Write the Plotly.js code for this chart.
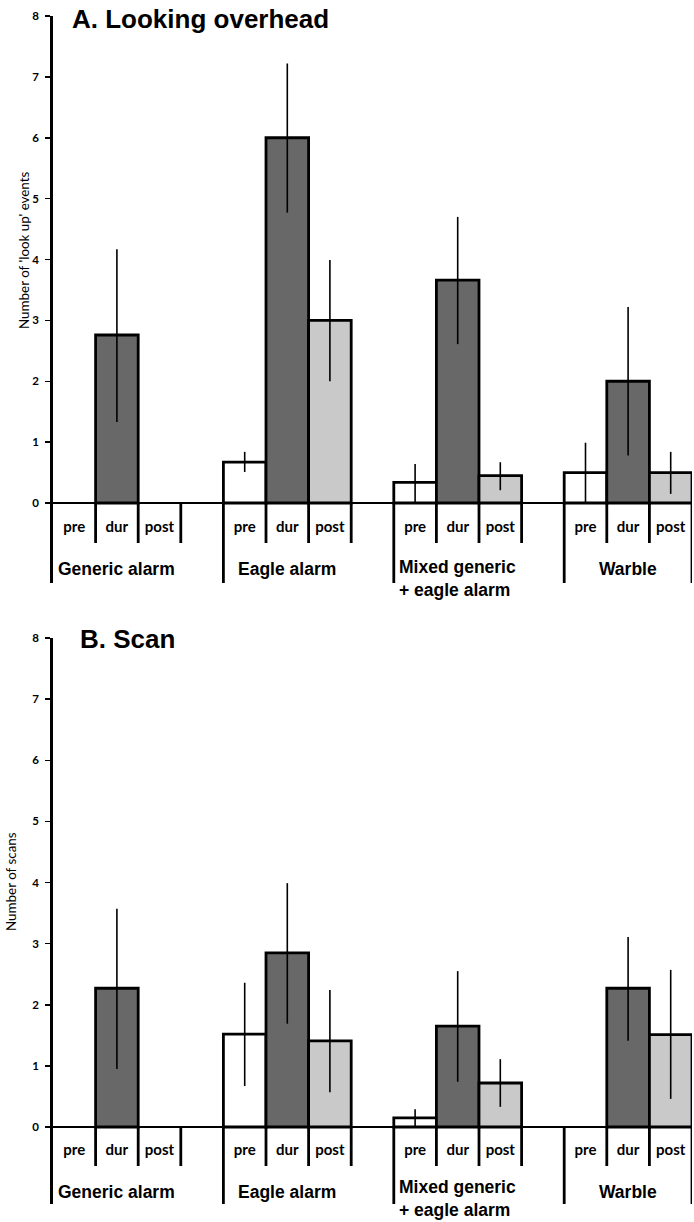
<!DOCTYPE html>
<html>
<head>
<meta charset="utf-8">
<script src="https://cdn.plot.ly/plotly-3.0.1.min.js"></script>
<style>html,body{margin:0;padding:0;background:#fff;}#chart{width:694px;height:1222px;}</style>
</head>
<body>
<div id="chart"></div>
<script>
// ---------- DATA ----------
const groups = ['Generic alarm', 'Eagle alarm', 'Mixed generic<br>+ eagle alarm', 'Warble'];
const phases = ['pre', 'dur', 'post'];
const yTicks = [0, 1, 2, 3, 4, 5, 6, 7, 8];
const titleA = 'A. Looking overhead';
const titleB = 'B. Scan';
const yTitleA = "Number of 'look up' events";
const yTitleB = 'Number of scans';

// Panel A: looking overhead (mean, upper and lower end of error bar)
const lookPre    = [0.00, 0.67, 0.34, 0.50];
const lookPreHi  = [0.00, 0.84, 0.64, 0.99];
const lookPreLo  = [0.00, 0.51, 0.00, 0.00];
const lookDur    = [2.76, 6.00, 3.66, 2.00];
const lookDurHi  = [4.17, 7.22, 4.70, 3.22];
const lookDurLo  = [1.33, 4.77, 2.61, 0.78];
const lookPost   = [0.00, 3.00, 0.45, 0.50];
const lookPostHi = [0.00, 3.99, 0.67, 0.84];
const lookPostLo = [0.00, 2.00, 0.21, 0.15];

// Panel B: scans
const scanPre    = [0.00, 1.52, 0.15, 0.00];
const scanPreHi  = [0.00, 2.36, 0.29, 0.00];
const scanPreLo  = [0.00, 0.67, 0.00, 0.00];
const scanDur    = [2.27, 2.85, 1.65, 2.27];
const scanDurHi  = [3.57, 3.99, 2.55, 3.11];
const scanDurLo  = [0.95, 1.69, 0.74, 1.41];
const scanPost   = [0.00, 1.41, 0.72, 1.51];
const scanPostHi = [0.00, 2.24, 1.11, 2.57];
const scanPostLo = [0.00, 0.57, 0.33, 0.46];

// ---------- STYLE / GEOMETRY ----------
const W = 694, H = 1222;
const fillColors = ['#ffffff', '#686868', '#c9c9c9'];
const labelFont = {family: 'Lato, sans-serif', size: 15, color: '#000', weight: 'bold'};
const groupFont = {family: 'Liberation Sans, Arial, sans-serif', size: 17.5, color: '#000', weight: 'bold'};
const titleFont = {family: 'Liberation Sans, Arial, sans-serif', size: 26, color: '#000', weight: 'bold'};
const tickFont = {family: 'Lato, sans-serif', size: 11.5, color: '#000', weight: 'bold'};
const yTitleFont = {family: 'Lato, sans-serif', size: 13.4, color: '#000'};

// pixel geometry of each panel (value 8 at top, value 0 baseline, bottom of the long dividers)
const panels = [
  {sfx: '', top: 16, zero: 503, bottom: 583, shortPx: 543, phasePx: 528, groupPx: 569, mixedTopPx: 555,
   title: titleA, titlePx: 19, titleX: 70, yTitle: yTitleA, yTitleX: 24, yTitleY: 250,
   series: [[lookPre, lookPreHi, lookPreLo], [lookDur, lookDurHi, lookDurLo], [lookPost, lookPostHi, lookPostLo]]},
  {sfx: '2', top: 638, zero: 1127, bottom: 1204, shortPx: 1166, phasePx: 1151, groupPx: 1192, mixedTopPx: 1175,
   title: titleB, titlePx: 639, titleX: 78, yTitle: yTitleB, yTitleX: 11, yTitleY: 882,
   series: [[scanPre, scanPreHi, scanPreLo], [scanDur, scanDurHi, scanDurLo], [scanPost, scanPostHi, scanPostLo]]}
];

const ML = 53, MR = 2;
const plotW = W - ML - MR;

const traces = [];
const annotations = [];
const layout = {
  width: W, height: H,
  margin: {l: ML, r: MR, t: 0, b: 0, pad: 0},
  paper_bgcolor: '#fff', plot_bgcolor: 'rgba(0,0,0,0)',
  showlegend: false, barmode: 'overlay',
  annotations: annotations
};

panels.forEach(p => {
  const xa = 'x' + p.sfx, ya = 'y' + p.sfx;
  const unit = (p.zero - p.top) / 8;
  const toVal = px => (p.zero - px) / unit;
  const yMin = toVal(p.bottom);
  const shortEnd = toVal(p.shortPx);

  // bars
  p.series.forEach((s, k) => {
    const [v, hi, lo] = s;
    traces.push({
      type: 'bar', xaxis: xa, yaxis: ya,
      x: groups.map((g, i) => 4 * i + k),
      y: v, width: 1, cliponaxis: false, hoverinfo: 'skip',
      marker: {color: fillColors[k], line: {color: '#000', width: v.map(d => d > 0 ? 2.8 : 0)}},
      error_y: {type: 'data', symmetric: false,
        array: hi.map((h, i) => Math.max(0, h - v[i])),
        arrayminus: lo.map((l, i) => Math.max(0, v[i] - l)),
        width: 0, thickness: 1.6, color: '#000'}
    });
  });

  // category box dividers
  const dx = [], dy = [];
  groups.forEach((g, i) => {
    const s = 4 * i;
    if (i > 0) { dx.push(s - 0.5, s - 0.5, null); dy.push(0, yMin, null); }
    [0.5, 1.5, 2.5].forEach(d => {
      const last = (i === groups.length - 1 && d === 2.5);
      dx.push(s + d, s + d, null); dy.push(0, last ? yMin : shortEnd, null);
    });
  });
  traces.push({type: 'scatter', mode: 'lines', xaxis: xa, yaxis: ya, x: dx, y: dy,
    cliponaxis: false, hoverinfo: 'skip', line: {color: '#000', width: 2.8}});

  // pre / dur / post labels
  const lx = [], lt = [];
  groups.forEach((g, i) => phases.forEach((ph, k) => { lx.push(4 * i + k); lt.push(ph); }));
  traces.push({type: 'scatter', mode: 'text', xaxis: xa, yaxis: ya, x: lx, y: lx.map(() => toVal(p.phasePx)),
    text: lt, textposition: 'middle center', textfont: labelFont, cliponaxis: false, hoverinfo: 'skip'});

  // group labels
  groups.forEach((g, i) => {
    const multi = g.indexOf('<br>') >= 0;
    annotations.push({xref: xa, yref: ya, x: 4 * i + 1, y: toVal(multi ? p.mixedTopPx : p.groupPx),
      xanchor: 'center', yanchor: multi ? 'top' : 'middle', text: g, showarrow: false,
      font: groupFont, align: 'left'});
  });

  // panel title
  annotations.push({xref: 'paper', yref: 'paper', x: (p.titleX - ML) / plotW, y: 1 - p.titlePx / H,
    xanchor: 'left', yanchor: 'middle', text: p.title, showarrow: false, font: titleFont});
  // y axis title
  annotations.push({xref: 'paper', yref: 'paper', x: (p.yTitleX - ML) / plotW, y: 1 - p.yTitleY / H,
    xanchor: 'center', yanchor: 'middle', text: p.yTitle, textangle: -90, showarrow: false, font: yTitleFont});

  layout['xaxis' + p.sfx] = {domain: [0, 1], range: [-0.5, 14.5], visible: false, fixedrange: true,
    anchor: ya};
  layout['yaxis' + p.sfx] = {domain: [1 - p.bottom / H, 1 - p.top / H], range: [yMin, 8], anchor: xa,
    tickmode: 'array', tickvals: yTicks, ticktext: yTicks.map(String),
    ticks: 'outside', ticklen: 5, tickwidth: 1.5, tickcolor: '#000', ticklabelstandoff: 4,
    showline: true, linewidth: 2.8, linecolor: '#000', showgrid: false,
    zeroline: true, zerolinecolor: '#000', zerolinewidth: 1.6, tickfont: tickFont, fixedrange: true};
});

Plotly.newPlot('chart', traces, layout, {displayModeBar: false, staticPlot: true});
</script>
</body>
</html>
